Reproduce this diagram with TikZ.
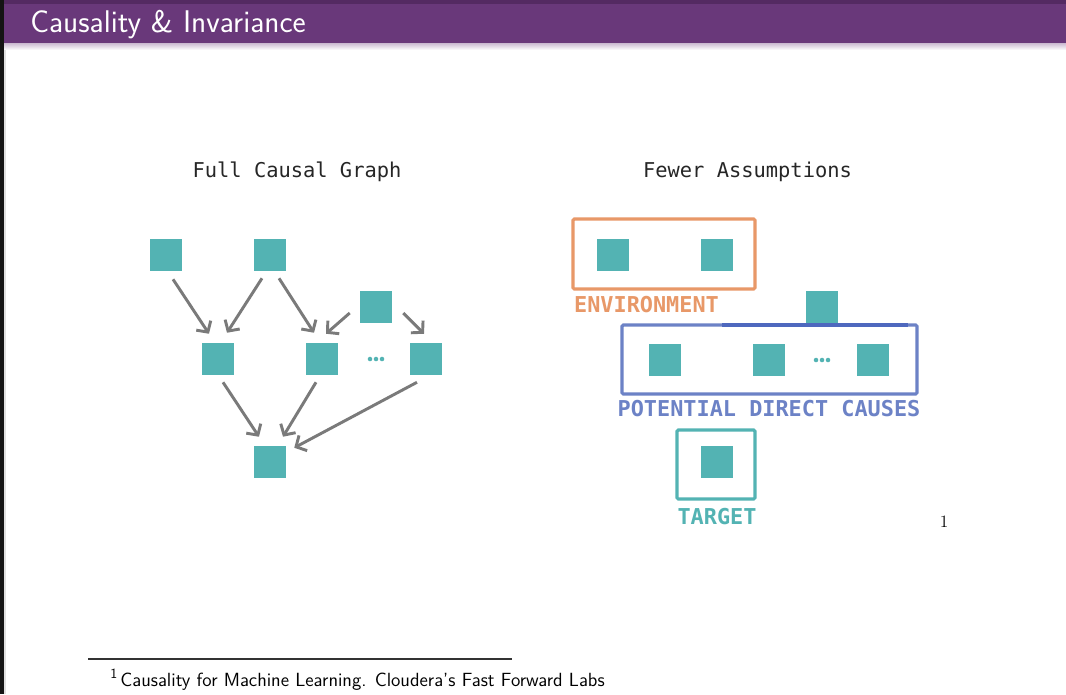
\documentclass[tikz,border=0pt]{standalone}
\usepackage{fontspec}
\newfontfamily\monof{DejaVu Sans Mono}
\usetikzlibrary{arrows.meta,calc}
\definecolor{tealf}{RGB}{83,179,179}
\definecolor{orangeb}{RGB}{232,152,104}
\definecolor{blueb}{RGB}{108,130,198}
\definecolor{bluedark}{RGB}{78,104,190}
\definecolor{grayarr}{RGB}{122,122,122}
\definecolor{purplebar}{RGB}{105,56,122}
\definecolor{purpledark}{RGB}{84,42,98}
\begin{document}
\begin{tikzpicture}[x=0.75pt,y=-0.75pt,
  sq/.style={fill=tealf,draw=none,minimum size=24pt,inner sep=0pt},
  arr/.style={draw=grayarr,line width=2.2pt,-{Straight Barb[length=6pt,width=13pt,line width=2.2pt]}},
  boxline/.style={line width=2.3pt,rounded corners=1pt},
  title/.style={font=\monof\fontsize{15.3pt}{18pt}\selectfont,anchor=base,text=black!85},
  lbl/.style={font=\monof\bfseries\fontsize{16.4pt}{20pt}\selectfont,anchor=base},
  dot/.style={fill=tealf,draw=none,circle,inner sep=0pt,minimum size=3.4pt}]
\useasboundingbox (0,0) rectangle (1066,694);
\fill[white] (0,0) rectangle (1066,694);
% header
\fill[purplebar] (0,0) rectangle (1066,43);
\fill[purpledark] (0,0) rectangle (1066,4);
\shade[top color=purplebar!35,bottom color=white] (0,43) rectangle (1066,50);
\fill[black!92] (0,0) rectangle (4,694);
\fill[black!12] (4,50) rectangle (6,694);
\node[anchor=base west,text=white,font=\sffamily\fontsize{23.5pt}{27pt}\selectfont,inner sep=0pt] (hdr) at (30,32) {Causality \& Invariance};
% titles
\node[title] (t1) at (297,177) {Full Causal Graph};
\node[title] (t2) at (747.5,177) {Fewer Assumptions};
% left graph
\node[sq] (A) at (166,255) {};
\node[sq] (B) at (270,255) {};
\node[sq] (C) at (376,307) {};
\node[sq] (D) at (218,359) {};
\node[sq] (E) at (322,359) {};
\node[sq] (F) at (426,359) {};
\node[sq] (G) at (270,462) {};
\node[dot] (d1) at (370,359) {};
\node[dot] (d2) at (376,359) {};
\node[dot] (d3) at (382,359) {};
\draw[arr] ([shift={(7,8)}]A.south) -- ([shift={(-9,-9)}]D.north);
\draw[arr] ([shift={(-8,7)}]B.south) -- ([shift={(9,-10)}]D.north);
\draw[arr] ([shift={(9,7)}]B.south) -- ([shift={(-8,-10)}]E.north);
\draw[arr] ([shift={(-10,6)}]C.west) -- ([shift={(4,-9)}]E.north);
\draw[arr] ([shift={(11,6)}]C.east) -- ([shift={(-2,-9)}]F.north);
\draw[arr] ([shift={(5,7)}]D.south) -- ([shift={(-11,-9)}]G.north);
\draw[arr] ([shift={(-6,7)}]E.south) -- ([shift={(13,-9)}]G.north);
\draw[arr] ([shift={(-9,7)}]F.south) -- ([shift={(8,2)}]G.north east);
% right diagram
\draw[boxline,draw=orangeb] (573,219) rectangle (755,289);
\node[sq] (e1) at (613,255) {};
\node[sq] (e2) at (717,255) {};
\node[lbl,text=orangeb] (envl) at (646.5,312) {ENVIRONMENT};
\draw[boxline,draw=blueb] (622,325) rectangle (917,394);
\draw[draw=bluedark,line width=2.3pt] (722,325) -- (908,325);
\node[sq] (x0) at (822,307) {};
\node[sq] (p1) at (665,360) {};
\node[sq] (p2) at (769,360) {};
\node[sq] (p3) at (873,360) {};
\node[dot] (q1) at (816,360) {};
\node[dot] (q2) at (822,360) {};
\node[dot] (q3) at (828,360) {};
\node[lbl,text=blueb] (pdc) at (769,416) {POTENTIAL DIRECT CAUSES};
\draw[boxline,draw=tealf] (677,430) rectangle (755,499);
\node[sq] (tg) at (717,462) {};
\node[lbl,text=tealf] (tgl) at (717,524) {TARGET};
% slide number
\node[anchor=base,font=\fontsize{13pt}{15pt}\selectfont,inner sep=0pt] (num) at (944,527) {1};
% footnote
\draw[line width=0.8pt,black!80] (88,659) -- (512,659);
\node[anchor=base west,font=\sffamily\fontsize{14.3pt}{16pt}\selectfont,inner sep=0pt] (fn) at (110,686) {\raisebox{0.42em}{\fontsize{10.5pt}{12pt}\selectfont 1}\,Causality for Machine Learning. Cloudera's Fast Forward Labs};
\end{tikzpicture}
\end{document}
